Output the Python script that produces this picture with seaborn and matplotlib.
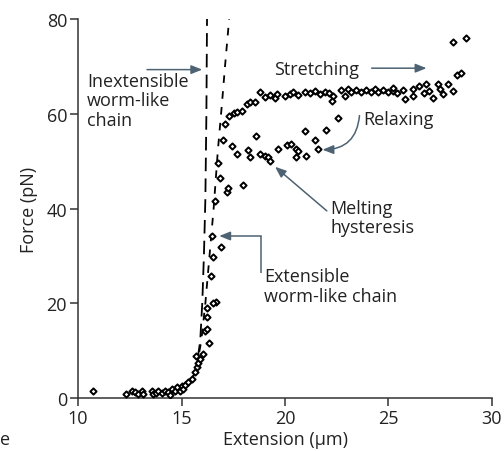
import numpy as np
import pandas as pd
import matplotlib
matplotlib.use("Agg")
import matplotlib.pyplot as plt
import seaborn as sns

# data (extension in um, force in pN)
low_x = [10.71, 12.32, 12.59, 12.75, 12.9, 13.07, 13.15, 13.55, 13.6, 13.75, 13.88, 14.04,
         14.2, 14.36, 14.45, 14.52, 14.68, 14.8, 14.92, 15.0, 15.08, 15.17, 15.33, 15.49,
         15.65, 15.73, 15.81, 15.89, 15.7, 16.03, 16.32, 16.13, 16.21]
low_y = [1.4, 0.8, 1.5, 1.2, 0.9, 1.4, 0.8, 1.5, 0.8, 1.1, 1.5, 1.05,
         1.5, 1.3, 0.7, 1.9, 1.4, 2.25, 1.5, 2.6, 1.9, 2.7, 3.3, 4.1,
         5.5, 6.5, 7.5, 8.2, 8.9, 9.3, 11.6, 14.2, 14.6]

rise_x = [16.23, 16.23, 16.65, 16.53, 16.4, 16.5, 16.89, 16.45, 16.63, 17.2, 17.26,
          16.86, 16.77, 17.98]
rise_y = [17.1, 19.0, 20.2, 20.0, 25.8, 29.7, 31.9, 34.2, 41.6, 43.4, 44.4,
          46.5, 49.7, 44.9]

stretch_x = [17.1, 17.3, 17.55, 17.7, 17.9, 18.14, 18.3, 18.54, 18.78, 19.02, 19.27, 19.5,
             19.62, 19.99, 20.23, 20.4, 20.63, 20.96, 21.2, 21.44, 21.68, 21.92, 22.13,
             22.32, 22.29, 22.73, 22.88, 23.05, 23.2, 23.45, 23.69, 23.93, 24.17, 24.33,
             24.5, 24.73, 24.98, 25.2, 25.4, 25.22, 25.7, 25.78, 26.18, 26.2, 26.5, 26.7,
             26.8, 26.97, 27.15, 27.39, 27.47, 27.63, 27.87, 28.12, 28.33, 28.52, 28.12, 28.73]
stretch_y = [57.8, 59.6, 60.2, 60.4, 60.6, 62.0, 62.5, 62.5, 64.5, 63.6, 63.9, 63.4,
             64.1, 63.8, 64.1, 64.5, 63.9, 64.5, 64.3, 64.7, 64.1, 64.5, 64.3,
             63.8, 62.7, 64.9, 63.8, 65.2, 64.5, 64.9, 64.5, 64.9, 64.5, 65.2,
             64.5, 64.9, 64.5, 64.8, 64.4, 65.5, 64.9, 63.2, 65.2, 63.8, 65.9, 64.4,
             66.3, 64.7, 63.4, 66.2, 65.2, 64.1, 66.2, 64.8, 68.1, 68.6, 75.2, 75.9]

relax_x = [17.02, 17.42, 17.66, 18.22, 18.3, 18.6, 18.78, 19.02, 19.19, 19.27, 19.67,
           20.12, 20.3, 20.55, 20.55, 20.62, 21.03, 20.97, 21.44, 21.6, 21.98, 22.56]
relax_y = [54.4, 53.2, 51.6, 52.4, 50.8, 55.3, 51.5, 51.1, 50.8, 50.1, 52.5,
           53.4, 53.6, 52.5, 50.8, 52.2, 51.1, 56.3, 54.4, 52.5, 56.5, 59.1]

# model curves
inext_x = [14.9, 15.4, 15.7, 15.9, 16.0, 16.08, 16.15, 16.2, 16.23]
inext_y = [1, 3, 6, 12, 20, 30, 42, 60, 80]
ext_x = [14.9, 15.4, 15.7, 15.95, 16.15, 16.35, 16.55, 16.75, 16.95, 17.1, 17.3]
ext_y = [1, 3, 6, 12, 20, 30, 40, 52, 62, 70, 80]

pts = pd.DataFrame({
    "x": low_x + rise_x + stretch_x + relax_x,
    "y": low_y + rise_y + stretch_y + relax_y,
})

sns.set_style("ticks")
plt.rcParams["font.family"] = ["Open Sans", "DejaVu Sans"]
fs = 13
ink = "#333333"
txt_c = "#222222"
arrow_c = "#4d6272"

fig = plt.figure(figsize=(5.04, 4.52), dpi=100)
ax = fig.add_axes([0.155, 0.117, 0.821, 0.839])

sns.lineplot(x=inext_x, y=inext_y, sort=False, estimator=None, color="black",
             lw=1.3, ax=ax)
ax.lines[-1].set_dashes([7.5, 4])
sns.lineplot(x=ext_x, y=ext_y, sort=False, estimator=None, color="black",
             lw=1.3, ax=ax)
ax.lines[-1].set_dashes([4.2, 4.6])

sns.scatterplot(data=pts, x="x", y="y", marker="D", s=10, facecolor="white",
                edgecolor="black", linewidth=1.4, ax=ax, zorder=3)

ax.set_xlim(10, 30)
ax.set_ylim(0, 80)
ax.set_xticks([10, 15, 20, 25, 30])
ax.set_yticks([0, 20, 40, 60, 80])
sns.despine(ax=ax)
for s in ["left", "bottom"]:
    ax.spines[s].set_color(ink)
    ax.spines[s].set_linewidth(1.1)
ax.tick_params(direction="out", length=6, width=1.1, color=ink, labelsize=fs,
               labelcolor=txt_c, pad=2)
ax.set_xlabel("Extension (µm)", fontsize=fs, color=txt_c, labelpad=2)
ax.set_ylabel("Force (pN)", fontsize=fs, color=txt_c, labelpad=6)

tk = dict(fontsize=fs, color=txt_c, linespacing=1.1)
ax.text(10.43, 68.8, "Inextensible\nworm-like\nchain", ha="left", va="top", **tk)
ax.text(19.46, 68.4, "Stretching", ha="left", va="baseline", **tk)
ax.text(23.79, 57.8, "Relaxing", ha="left", va="baseline", **tk)
ax.text(22.2, 42.0, "Melting\nhysteresis", ha="left", va="top", **tk)
ax.text(19.0, 27.6, "Extensible\nworm-like chain", ha="left", va="top", **tk)

ap = dict(arrowstyle="-|>,head_length=0.55,head_width=0.22", color=arrow_c, lw=1.1,
          shrinkA=0, shrinkB=0, mutation_scale=12)
ax.annotate("", xy=(16.0, 69.3), xytext=(13.33, 69.3), arrowprops=ap)
ax.annotate("", xy=(26.84, 69.6), xytext=(24.19, 69.6), arrowprops=ap)
ax.annotate("", xy=(21.81, 52.4), xytext=(23.6, 59.6),
            arrowprops=dict(ap, connectionstyle="arc3,rad=-0.45"))
ax.annotate("", xy=(19.52, 48.8), xytext=(22.02, 39.5), arrowprops=ap)
ax.plot([18.82, 18.82], [26.4, 34.2], color=arrow_c, lw=1.1, solid_capstyle="butt")
ax.annotate("", xy=(16.82, 34.2), xytext=(18.85, 34.2), arrowprops=ap)

fig.text(0.0, 7 / 452, "e", ha="left", va="baseline", fontsize=fs, color=txt_c)

fig.savefig("out.png", dpi=100)
